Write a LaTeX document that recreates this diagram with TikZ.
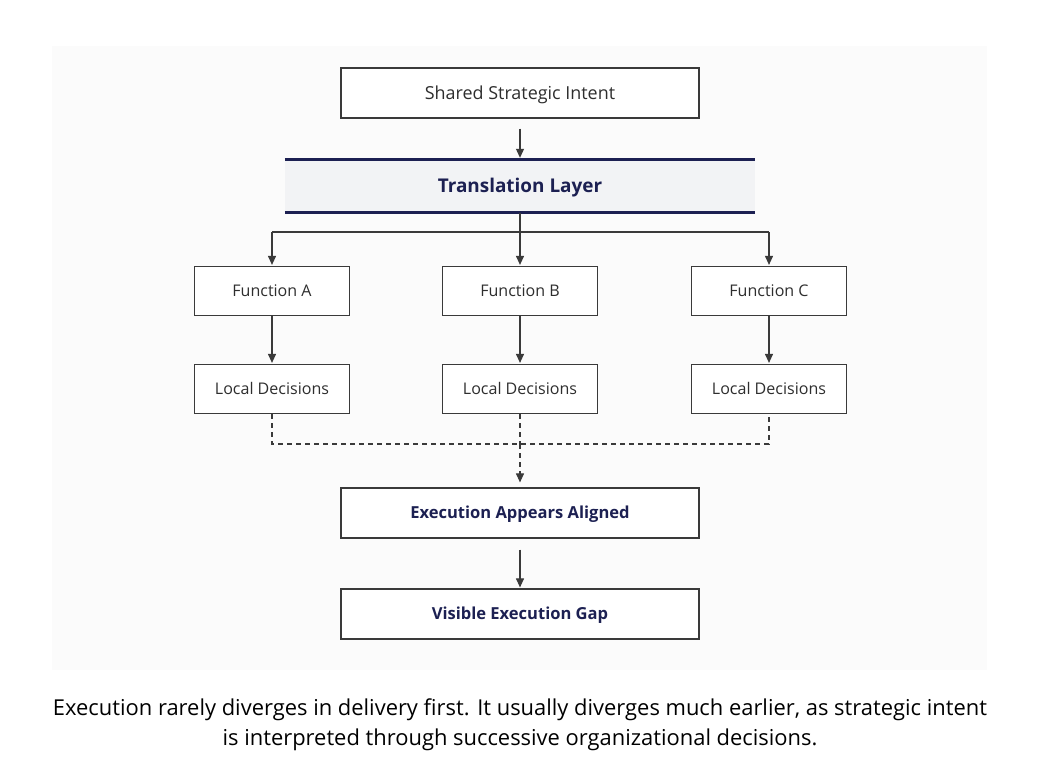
\documentclass[tikz,border=0pt]{standalone}
\usepackage{fontspec}
\setmainfont{Open Sans}
\newfontfamily\capfont{Open Sans}
\usetikzlibrary{arrows.meta,positioning}
\definecolor{bgpanel}{HTML}{FBFBFB}
\definecolor{boxline}{HTML}{3A3A3A}
\definecolor{navy}{HTML}{1C2052}
\definecolor{layerfill}{HTML}{F2F3F5}
\definecolor{txt}{HTML}{2E2E2E}
\tikzset{
  capcenter/.style={text height=#1, text depth=0pt},
  plainbox/.style={draw=boxline, line width=1.2bp, fill=white, inner sep=0pt, text=txt, capcenter=11.5bp, font=\fontsize{16.1}{18}\selectfont},
  widebox/.style={plainbox, minimum width=358bp, minimum height=50bp},
  smallbox/.style={plainbox, minimum width=155bp, minimum height=49bp},
  boldbox/.style={widebox, text=navy, capcenter=11.85bp, font=\fontsize{16.6}{18}\selectfont\bfseries},
  arr/.style={draw=boxline, line width=1.1bp, -{Triangle[length=9bp,width=8bp]}},
  link/.style={draw=boxline, line width=1.1bp},
  dashlink/.style={draw=boxline, line width=1.1bp, dash pattern=on 5bp off 4bp},
  navyline/.style={draw=navy, line width=2.6bp}
}
\begin{document}
\begin{tikzpicture}[x=1bp,y=-1bp]
\useasboundingbox[fill=white] (0,0) rectangle (1047,778);
\fill[bgpanel] (52,46) rectangle (987,670);

\node[widebox, capcenter=12.85bp, font=\fontsize{18}{20}\selectfont] (intent) at (520,93) {Shared Strategic Intent};
\node[fill=layerfill, minimum width=470bp, minimum height=53bp, inner sep=0pt, text=navy, capcenter=13.57bp, font=\fontsize{19}{22}\selectfont\bfseries] (layer) at (520,186) {Translation Layer};
\draw[navyline] (layer.north west) -- (layer.north east);
\draw[navyline] (layer.south west) -- (layer.south east);

\node[smallbox] (fa) at (272,291) {Function A};
\node[smallbox] (fb) at (520,291) {Function B};
\node[smallbox] (fc) at (769,291) {Function C};
\node[smallbox] (la) at (272,389) {Local Decisions};
\node[smallbox] (lb) at (520,389) {Local Decisions};
\node[smallbox] (lc) at (769,389) {Local Decisions};

\node[boldbox] (aligned) at (520,513) {Execution Appears Aligned};
\node[boldbox] (gap) at (520,614) {Visible Execution Gap};

\coordinate (split) at (520,232);
\coordinate (merge) at (520,444);

\draw[arr] ([yshift=-10bp]intent.south) -- ([yshift=1.5bp]layer.north);
\draw[link] (layer.south) -- (split);
\draw[link] (fa.north |- split) -- (fc.north |- split);
\draw[arr] (fa.north |- split) -- ([yshift=1bp]fa.north);
\draw[arr] (split) -- ([yshift=1bp]fb.north);
\draw[arr] (fc.north |- split) -- ([yshift=1bp]fc.north);

\draw[arr] (fa.south) -- ([yshift=1bp]la.north);
\draw[arr] (fb.south) -- ([yshift=1bp]lb.north);
\draw[arr] (fc.south) -- ([yshift=1bp]lc.north);

\draw[dashlink] (la.south) -- (la.south |- merge) -- (lc.south |- merge) -- (lc.south);
\draw[dashlink] (lb.south) -- (merge);
\draw[dashlink, -{Triangle[length=9bp,width=8bp]}] (merge) -- ([yshift=5bp]aligned.north);
\draw[arr] ([yshift=-11bp]aligned.south) -- ([yshift=1bp]gap.north);

\node[font=\capfont\fontsize{22}{30}\selectfont, align=center, text=black] (caption) at (520,725) {Execution rarely diverges in delivery first. It usually diverges much earlier, as strategic intent\\ is interpreted through successive organizational decisions.};
\end{tikzpicture}
\end{document}
